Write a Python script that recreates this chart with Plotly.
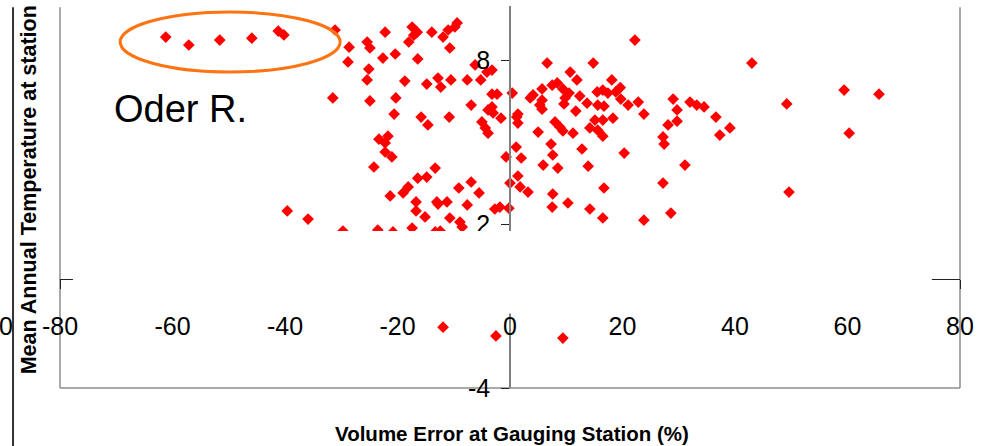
import plotly.graph_objects as go

# ---- data (Volume error %, Mean annual temperature) ----
vol_error = [
    -61.2, -57.1, -51.6, -45.9, -41.2, -40.2, -39.6, -31.1, -28.6, -28.8,
    -22.2, -25.4, -24.9, -22.6, -20.4, -25.1, -25.4, -18.7, -31.5, -24.9,
    -20.3, -20.6, -23.3, -21.7, -22.2, -22.2, -21.0, -24.2, -21.3, -19.0,
    -18.1, -16.7, -16.7, -35.9, -17.4, -16.5, -18.0, -16.4, -15.8, -16.4,
    -29.7, -23.5, -20.8, -17.4, -17.1, -13.9, -11.9, -11.0, -9.8, -9.4,
    -10.7, -6.2, -3.2, -4.1, -14.8, -12.8, -12.3, -10.5, -7.6, -5.2,
    -3.2, -2.3, 0.4, -6.9, -3.2, -3.9, -3.0, -1.6, -14.6, -10.8,
    -5.0, -4.4, -3.9, 1.2, 1.1, -0.7, -13.3, -14.8, -6.9, -9.1,
    -5.5, 0.0, -13.0, -12.8, -11.2, -7.6, -15.1, -10.7, -8.9, -8.5,
    -2.7, -1.8, -0.2, -13.3, -12.4,
    6.6, 14.8, 10.7, 11.9, 18.1, 4.1, 3.6, 5.7, 7.5, 8.4,
    9.4, 10.5, 9.8, 9.6, 5.7, 5.3, 5.7, 12.4, 13.7, 15.5,
    16.5, 17.4, 18.8, 15.6, 16.7, 11.7, 1.4, 1.4, 18.3, 16.5,
    15.1, 14.2, 15.6, 16.5, 8.0, 8.9, 9.4, 5.0, 11.2, 7.3,
    12.8, 2.0, 7.6, 5.9, 8.5, 13.9, 1.4, 1.8, 3.2, 16.7,
    7.6, 10.3, 7.5, 14.2, 16.5,
    22.2, 19.6, 19.7, 21.0, 22.8, 23.8, 29.0, 29.7, 29.7, 28.1,
    27.2, 27.4, 32.0, 33.2, 34.5, 36.6, 39.1, 37.3, 20.3, 31.1,
    27.2, 28.6, 23.8,
    43.0, 49.2, 59.4, 65.6, 60.3, 49.6,
    -11.9, -2.5, 9.4,
]
mean_temp = [
    8.86, 8.57, 8.75, 8.82, 9.08, 8.94, 2.49, 9.12, 8.49, 7.95,
    9.04, 8.68, 8.46, 8.09, 8.24, 7.69, 7.29, 7.25, 6.63, 6.52,
    6.63, 6.04, 5.12, 5.23, 4.98, 4.65, 4.47, 4.10, 3.04, 3.15,
    3.37, 2.82, 2.49, 2.19, 9.23, 9.04, 8.68, 8.06, 5.93, 3.69,
    1.75, 1.79, 1.72, 1.86, 8.93, 9.04, 8.86, 9.12, 9.23, 9.38,
    8.46, 7.84, 7.65, 7.58, 7.14, 7.36, 7.03, 7.29, 7.29, 7.29,
    6.77, 6.77, 6.81, 6.37, 6.30, 6.19, 6.08, 5.89, 5.64, 5.93,
    5.75, 5.53, 5.34, 5.93, 4.83, 4.47, 4.06, 3.73, 3.55, 3.33,
    3.15, 3.51, 2.82, 2.74, 2.82, 2.71, 2.27, 2.23, 2.08, 1.90,
    2.56, 2.63, 2.59, 1.72, 1.75,
    7.91, 7.91, 7.58, 7.29, 7.29, 6.74, 6.63, 6.96, 7.10, 7.18,
    6.96, 6.81, 6.63, 6.41, 6.55, 6.37, 6.22, 6.70, 6.44, 6.85,
    6.92, 6.81, 6.85, 6.37, 6.33, 6.15, 6.04, 5.71, 5.89, 5.82,
    5.82, 5.53, 5.45, 5.23, 5.75, 5.56, 5.42, 5.38, 5.34, 4.94,
    4.76, 4.43, 4.54, 4.17, 4.06, 4.13, 3.77, 3.37, 3.18, 3.33,
    3.11, 2.78, 2.63, 2.56, 2.23,
    8.75, 7.01, 6.59, 6.37, 6.48, 6.04, 6.59, 6.19, 5.78, 5.64,
    5.20, 4.94, 6.48, 6.37, 6.30, 5.93, 5.53, 5.27, 4.61, 4.17,
    3.51, 2.41, 2.15,
    7.91, 6.41, 6.92, 6.77, 5.34, 3.18,
    -1.77, -2.09, -2.17,
]

x_tick_vals = [-80, -60, -40, -20, 0, 20, 40, 60, 80]
x_tick_text = ["-80", "-60", "-40", "-20", "0", "20", "40", "60", "80"]
y_tick_vals = [-4, 2, 8]
y_tick_text = ["-4", "2", "8"]

x_title = "Volume Error at Gauging Station (%)"
y_title = "Mean Annual Temperature at station"
note_text = "Oder R."

FONT = "Liberation Sans, Arial, sans-serif"

fig = go.Figure()
fig.add_trace(go.Scatter(
    x=vol_error, y=mean_temp, mode="markers",
    marker=dict(symbol="diamond", size=9, color="#ff0000", line=dict(width=0)),
    showlegend=False, hoverinfo="x+y",
))
# helper trace so the label-only axis gets drawn
fig.add_trace(go.Scatter(x=[None], y=[None], xaxis="x2", yaxis="y",
                         showlegend=False, hoverinfo="skip"))

fig.update_layout(
    width=994, height=446,
    margin=dict(l=60, r=34, t=6, b=58),
    paper_bgcolor="white", plot_bgcolor="white",
    font=dict(family=FONT, color="black"),
    xaxis=dict(
        range=[-80, 80], showgrid=False, zeroline=False,
        anchor="free", position=4 / 14,
        showline=True, linecolor="#222", linewidth=1,
        ticks="outside", ticklen=9, tickcolor="#222",
        tickvals=x_tick_vals, showticklabels=False,
    ),
    xaxis2=dict(
        range=[-80, 80], overlaying="x", anchor="free", position=0.207,
        showgrid=False, zeroline=False, showline=False, ticks="",
        tickvals=x_tick_vals, ticktext=x_tick_text,
        tickfont=dict(size=25, family=FONT, color="black"),
    ),
    yaxis=dict(
        range=[-4, 10], showgrid=False, zeroline=False,
        anchor="free", position=0.5,
        showline=True, linecolor="#808080", linewidth=1.5,
        ticks="outside", ticklen=8, tickcolor="#222",
        tickvals=y_tick_vals, ticktext=y_tick_text,
        tickfont=dict(size=25, family=FONT, color="black"),
        ticklabelstandoff=6,
    ),
    shapes=[
        # plot frame (left, bottom, right)
        dict(type="line", xref="paper", yref="paper", x0=0, x1=0, y0=0, y1=0.997,
             line=dict(color="#8c8c8c", width=1.5), layer="below"),
        dict(type="line", xref="paper", yref="paper", x0=0, x1=1, y0=0, y1=0,
             line=dict(color="#8c8c8c", width=1.5), layer="below"),
        dict(type="line", xref="paper", yref="paper", x0=1, x1=1, y0=0, y1=0.997,
             line=dict(color="#8c8c8c", width=1.5), layer="below"),
        # dark line at far left
        dict(type="line", xref="paper", yref="paper", x0=-0.0522, x1=-0.0522,
             y0=-0.16, y1=0.997, line=dict(color="#333333", width=2)),
        # white mask band
        dict(type="rect", xref="x", yref="y", x0=-77.7, x1=75.0, y0=-1.27, y1=1.75,
             fillcolor="white", line=dict(width=0), layer="above"),
        # orange ellipse
        dict(type="circle", xref="x", yref="y", x0=-69.3, x1=-30.2, y0=7.58, y1=9.78,
             line=dict(color="#ff7412", width=3), fillcolor="rgba(0,0,0,0)"),
    ],
    annotations=[
        dict(text=note_text, xref="paper", yref="paper", x=0.0578, y=0.73,
             xanchor="left", yanchor="middle", showarrow=False,
             font=dict(size=38, family=FONT, color="black")),
        dict(text="<b>" + x_title + "</b>", xref="paper", yref="paper",
             x=0.502, y=-0.118, xanchor="center", yanchor="middle", showarrow=False,
             font=dict(size=20.5, family=FONT, color="black")),
        dict(text="<b>" + y_title + "</b>", xref="paper", yref="paper",
             x=-0.0345, y=0.52, xanchor="center", yanchor="middle", showarrow=False,
             textangle=-90, font=dict(size=21.5, family=FONT, color="black")),
        dict(text="0", xref="paper", yref="paper", x=-0.06, y=0.162,
             xanchor="center", yanchor="middle", showarrow=False,
             font=dict(size=25, family=FONT, color="black")),
    ],
)

fig.write_html("out.html")
